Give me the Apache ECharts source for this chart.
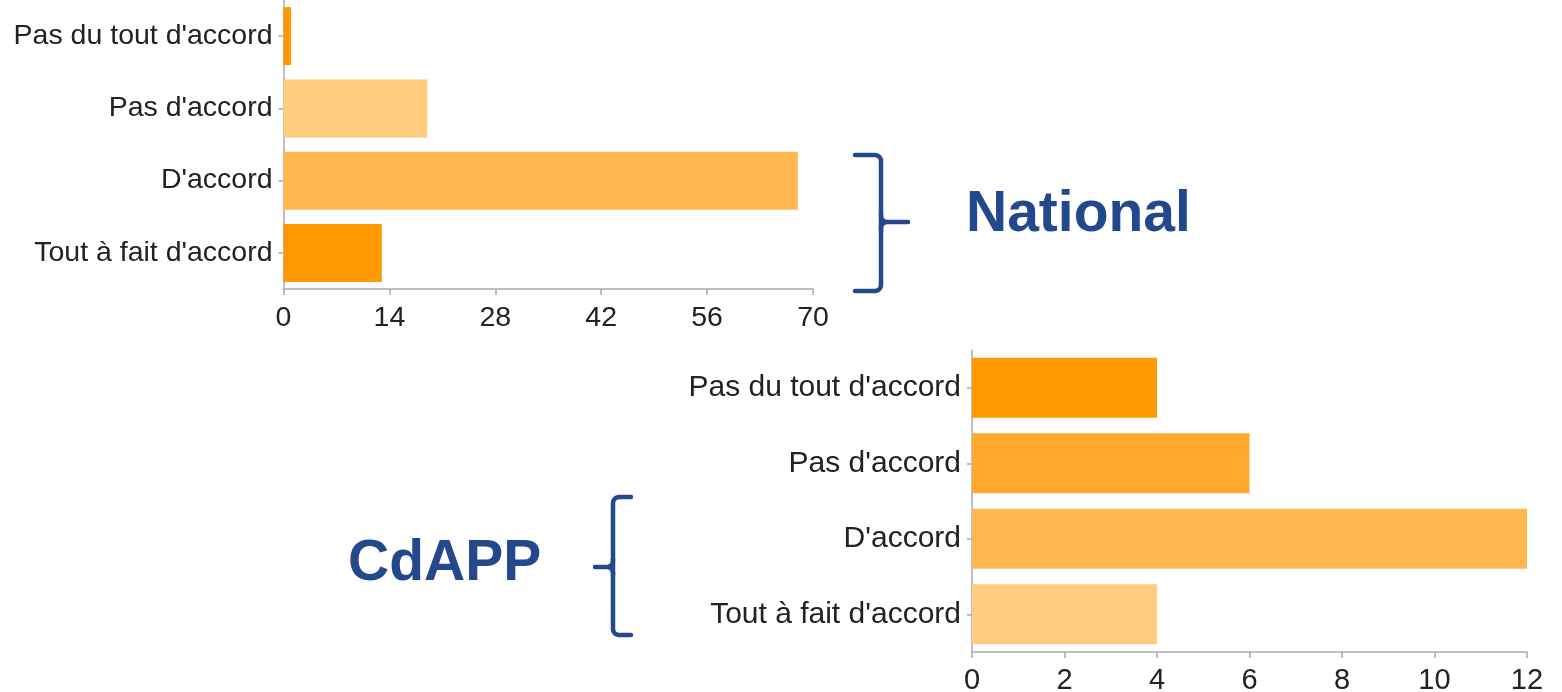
<!DOCTYPE html>
<html>
<head>
<meta charset="utf-8">
<script src="https://cdn.jsdelivr.net/npm/echarts@6/dist/echarts.min.js"></script>
<style>
  html, body { margin: 0; padding: 0; background: #fff; }
  #chart { width: 1562px; height: 692px; }
</style>
</head>
<body>
<div id="chart"></div>
<script>
// categories (same for both charts, top to bottom)
var categories = ["Pas du tout d'accord", "Pas d'accord", "D'accord", "Tout à fait d'accord"];

// National (percent)
var nationalValues = [1, 19, 68, 13];
var nationalTicks = [0, 14, 28, 42, 56, 70];

// CdAPP (counts)
var cdappValues = [4, 6, 12, 4];
var cdappTicks = [0, 2, 4, 6, 8, 10, 12];

var nationalColors = ["#ff9900", "#ffcc80", "#ffb84f", "#ff9900"];
var cdappColors = ["#ff9900", "#ffa92e", "#ffb84f", "#ffcc80"];

var brandBlue = "#23488c";
var axisGrey = "#aaaaaa";
var labelFont = "Liberation Sans, Arial, sans-serif";

function withColors(values, colors){
	var out = [];
	for(var i = 0; i < values.length; i++){
		out.push({ value: values[i], itemStyle: { color: colors[i] } });
	}
	return out;
}

function makeXAxis(gridIndex, ticks, fontSize, margin){
	return {
		type: 'value',
		gridIndex: gridIndex,
		min: ticks[0],
		max: ticks[ticks.length - 1],
		interval: ticks[1] - ticks[0],
		splitLine: { show: false },
		axisLine: { show: true, lineStyle: { color: axisGrey, width: 1.5 } },
		axisTick: { show: true, length: 6, lineStyle: { color: axisGrey, width: 1.5 } },
		axisLabel: { color: "#222", fontSize: fontSize, fontFamily: labelFont, margin: margin }
	};
}

function makeYAxis(gridIndex, fontSize){
	return {
		type: 'category',
		gridIndex: gridIndex,
		data: categories,
		inverse: true,
		axisLine: { show: true, lineStyle: { color: axisGrey, width: 1.5 } },
		axisTick: { show: true, alignWithLabel: true, length: 5, lineStyle: { color: axisGrey, width: 1.5 } },
		axisLabel: { color: "#222", fontSize: fontSize, fontFamily: labelFont, margin: 11, padding: [8, 0, 0, 0] }
	};
}

// quart de cercle approché, pour arrondir les coins des accolades
function arc(cx, cy, r, a0, a1){
	var pts = [];
	for(var k = 0; k <= 6; k++){
		var a = (a0 + (a1 - a0) * k / 6) * Math.PI / 180;
		pts.push([cx + r * Math.cos(a), cy + r * Math.sin(a)]);
	}
	return pts;
}

// accolade : trait principal + petite pointe
function brace(points, tip){
	return [
		{
			type: 'polyline',
			shape: { points: points },
			style: { fill: null, stroke: brandBlue, lineWidth: 4.5, lineCap: 'round', lineJoin: 'round' }
		},
		{
			type: 'polyline',
			shape: { points: tip },
			style: { fill: null, stroke: brandBlue, lineWidth: 4.5, lineCap: 'round', lineJoin: 'round' }
		}
	];
}

var chart = echarts.init(document.getElementById('chart'));

var graphics = [];
// "}" pour National
graphics = graphics.concat(brace(
	[[855,155]].concat(arc(875,161,6,-90,0), arc(875,285,6,0,90), [[855,291]]),
	[[881,214]].concat(arc(887,216,6,180,90), [[908,222]]).concat([[887,222]], arc(887,228,6,-90,-180), [[881,230]])
));
// "{" pour CdAPP
graphics = graphics.concat(brace(
	[[631,497]].concat(arc(619,503,6,-90,-180), arc(619,629,6,180,90), [[631,635]]),
	[[613,559]].concat(arc(607,561,6,0,90), [[595,567]]).concat([[607,567]], arc(607,573,6,-90,0), [[613,575]])
));
graphics.push({
	type: 'text',
	x: 966, y: 215,
	style: { text: 'National', fill: brandBlue, font: 'bold 57px ' + labelFont, verticalAlign: 'middle' }
});
graphics.push({
	type: 'text',
	x: 348, y: 564,
	style: { text: 'CdAPP', fill: brandBlue, font: 'bold 57px ' + labelFont, verticalAlign: 'middle' }
});

var option = {
	animation: false,
	backgroundColor: '#fff',
	grid: [
		{ left: 283.5, top: 0, width: 529.5, height: 289, outerBoundsMode: 'none' },
		{ left: 972, top: 350, width: 555, height: 302, outerBoundsMode: 'none' }
	],
	xAxis: [ makeXAxis(0, nationalTicks, 28.5, 15), makeXAxis(1, cdappTicks, 29, 14) ],
	yAxis: [ makeYAxis(0, 28.5), makeYAxis(1, 30) ],
	series: [
		{
			name: 'National',
			type: 'bar',
			xAxisIndex: 0,
			yAxisIndex: 0,
			barWidth: 58,
			data: withColors(nationalValues, nationalColors)
		},
		{
			name: 'CdAPP',
			type: 'bar',
			xAxisIndex: 1,
			yAxisIndex: 1,
			barWidth: 60,
			data: withColors(cdappValues, cdappColors)
		}
	],
	graphic: graphics
};

chart.setOption(option);
</script>
</body>
</html>
